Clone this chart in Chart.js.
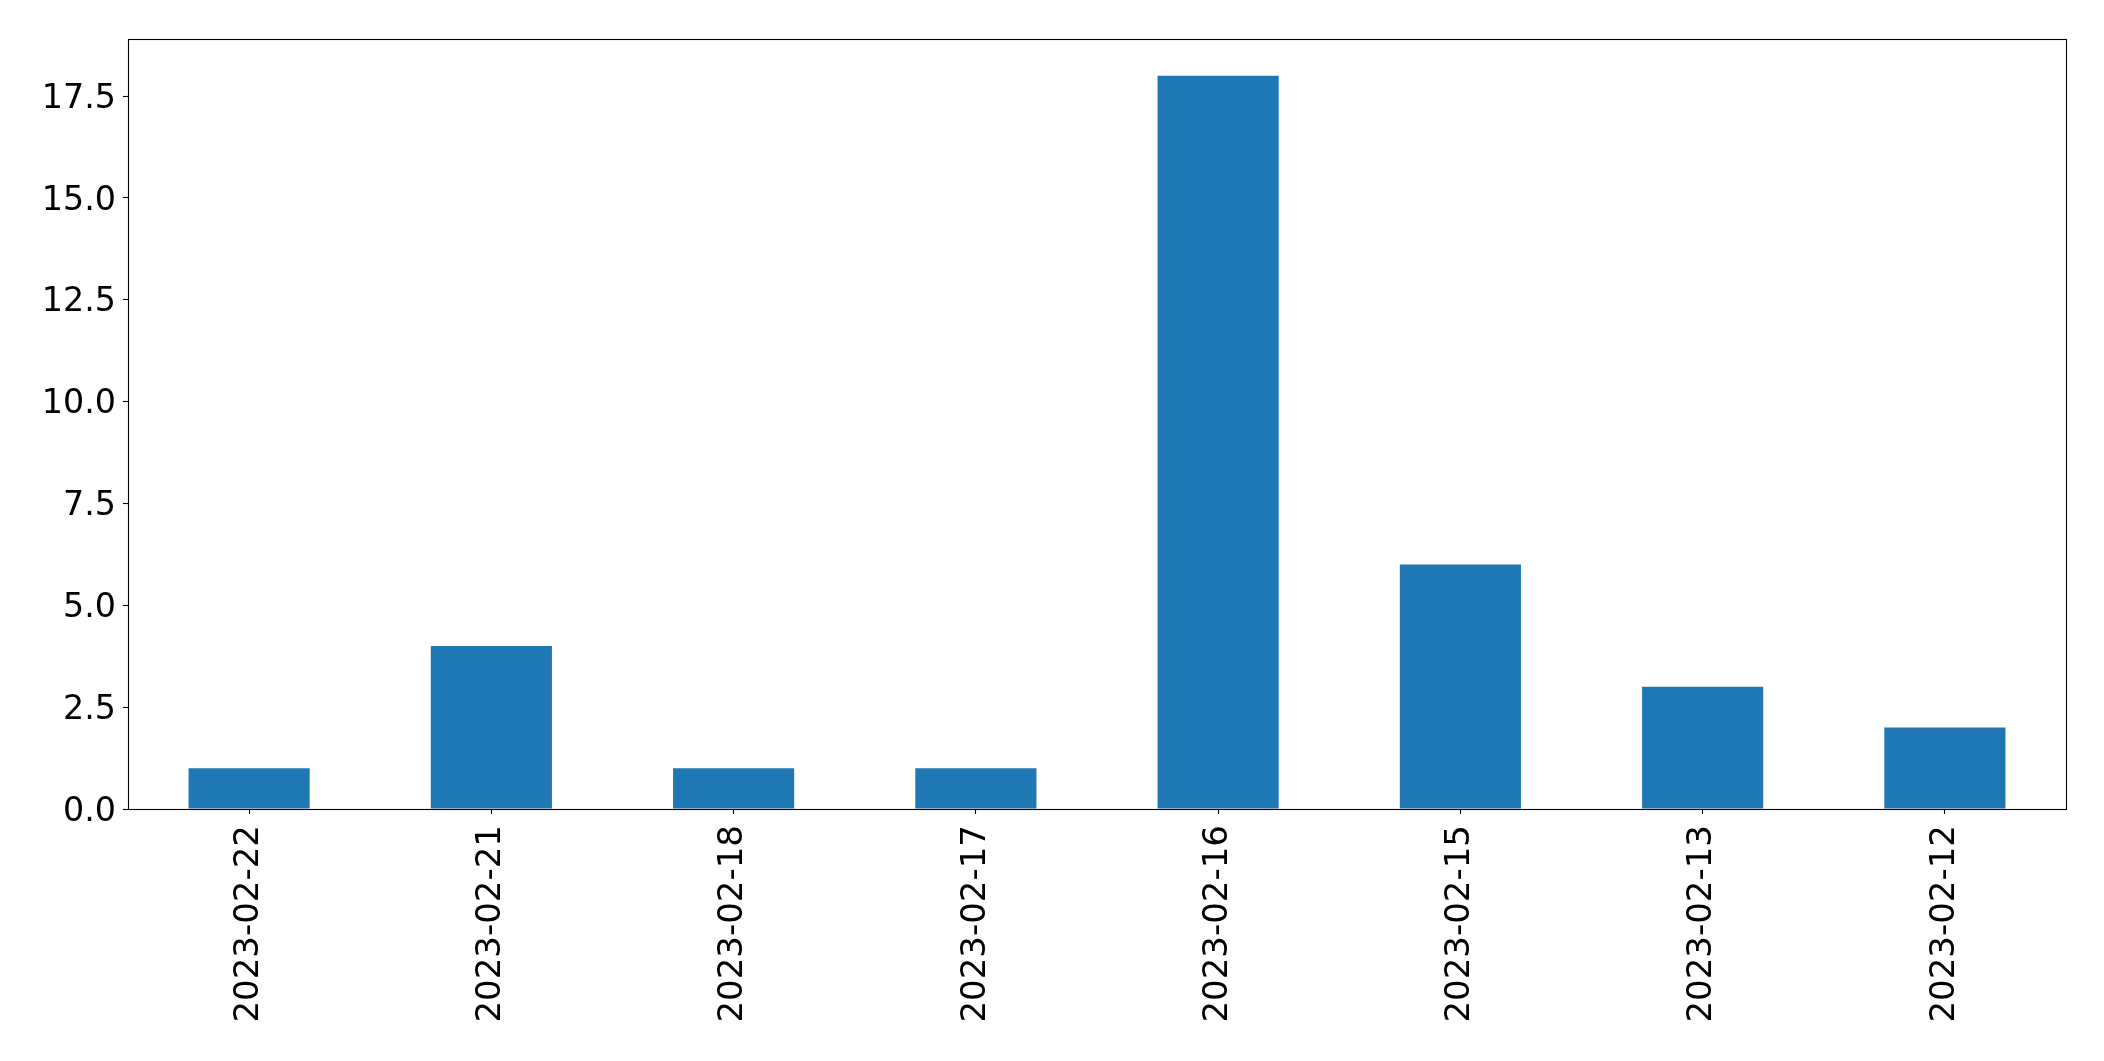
<!DOCTYPE html>
<html>
<head>
<meta charset="utf-8">
<script src="https://cdn.jsdelivr.net/npm/chart.js@4/dist/chart.umd.min.js"></script>
<style>
html,body{margin:0;padding:0;background:#fff;overflow:hidden;}
canvas{display:block;}
</style>
</head>
<body>
<canvas id="c" width="2104" height="1061"></canvas>
<script>
const categories = ["2023-02-22","2023-02-21","2023-02-18","2023-02-17","2023-02-16","2023-02-15","2023-02-13","2023-02-12"];
const values = [1, 4, 1, 1, 18, 6, 3, 2];
const yTicks = [0, 2.5, 5, 7.5, 10, 12.5, 15, 17.5];
const yMax = 18.9;

const FONT = "'DejaVu Sans', sans-serif";

const frame = {
  id: 'frame',
  afterDraw(chart) {
    const {ctx, chartArea: a} = chart;
    ctx.save();
    ctx.strokeStyle = '#000';
    ctx.lineWidth = 1.1;
    ctx.strokeRect(Math.round(a.left) + 0.5, Math.round(a.top) + 0.5, Math.round(a.right - a.left), Math.round(a.bottom - a.top));
    ctx.restore();
  }
};

new Chart(document.getElementById('c'), {
  type: 'bar',
  data: {
    labels: categories,
    datasets: [{
      data: values,
      backgroundColor: '#1f77b4',
      borderWidth: 0,
      barPercentage: 0.5,
      categoryPercentage: 1.0
    }]
  },
  options: {
    responsive: false,
    devicePixelRatio: 1,
    animation: false,
    layout: { padding: { left: 0, top: 39, right: 38, bottom: 0 } },
    plugins: { legend: { display: false }, tooltip: { enabled: false } },
    scales: {
      x: {
        offset: true,
        grid: { offset: false, drawOnChartArea: false, drawTicks: true, tickLength: 5, tickColor: '#000', tickWidth: 1.1 },
        border: { display: false },
        ticks: { color: '#000', font: { family: FONT, size: 34 }, minRotation: 90, maxRotation: 90, padding: 11, autoSkip: false },
        afterFit(s) { s.height = 252; }
      },
      y: {
        min: 0,
        max: yMax,
        grid: { drawOnChartArea: false, drawTicks: true, tickLength: 5, tickColor: '#000', tickWidth: 1.1 },
        border: { display: false },
        ticks: { color: '#000', font: { family: FONT, size: 33.3 }, padding: 7, labelOffset: 3, callback: v => Number(v).toFixed(1) },
        afterBuildTicks(s) { s.ticks = yTicks.map(v => ({ value: v })); },
        afterFit(s) { s.width = 128; }
      }
    }
  },
  plugins: [frame]
});
</script>
</body>
</html>
